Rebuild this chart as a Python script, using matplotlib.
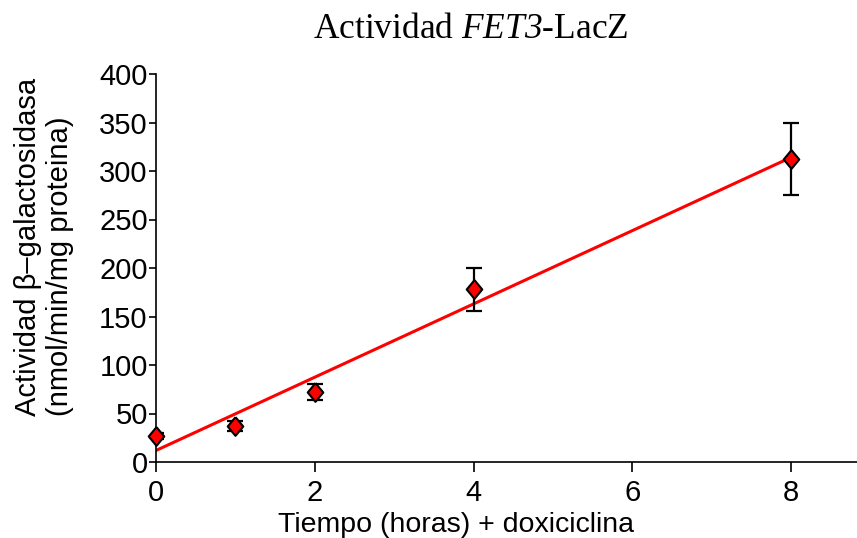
import numpy as np
import matplotlib.pyplot as plt

plt.rcParams['mathtext.fontset'] = 'custom'
plt.rcParams['mathtext.it'] = 'Liberation Serif:italic'
plt.rcParams['mathtext.rm'] = 'Liberation Serif:italic'

# data
hours = [0, 1, 2, 4, 8]
activity = [27, 37, 72, 178, 312]
errors = [3, 5, 8, 22, 37]

# linear fit through the points
slope, intercept = np.polyfit(hours, activity, 1)
fit_x = np.array([0, 8])
fit_y = slope * fit_x + intercept

W, H = 857, 538
fig = plt.figure(figsize=(W / 100, H / 100), dpi=100)
ax = fig.add_axes([156 / W, 1 - 462 / H, 1 - 156 / W, (462 - 74) / H])

ax.plot(fit_x, fit_y, color="red", lw=2.2, zorder=2)
ax.errorbar(hours, activity, yerr=errors, fmt="none", ecolor="black",
            elinewidth=1.6, capsize=5.5, capthick=1.6, zorder=3)
diamond = [(0, 1), (0.83, 0), (0, -1), (-0.83, 0), (0, 1)]
ax.plot(hours, activity, linestyle="none", marker=diamond, markersize=13.5,
        markerfacecolor="red", markeredgecolor="black", markeredgewidth=1.5,
        zorder=4, clip_on=False)

ax.set_xlim(0, 8.83)
ax.set_ylim(0, 400)
ax.set_xticks([0, 2, 4, 6, 8])
ax.set_yticks(range(0, 401, 50))

for side in ("top", "right"):
    ax.spines[side].set_visible(False)
for side in ("left", "bottom"):
    ax.spines[side].set_linewidth(1.2)
ax.tick_params(axis="y", direction="out", length=5, width=1.2,
               labelsize=21, pad=1)
ax.tick_params(axis="x", direction="out", length=7, width=1.2,
               labelsize=21, pad=5)
for lab in ax.get_xticklabels() + ax.get_yticklabels():
    lab.set_fontfamily("Liberation Sans")

fig.text(456 / W, 1 - 532 / H, "Tiempo (horas) + doxiciclina",
         ha="center", va="baseline", fontsize=20.5,
         fontfamily="Liberation Sans")
fig.text(44 / W, 1 - 416 / H,
         "Actividad β–galactosidasa\n(nmol/min/mg proteina)",
         rotation=90, ha="center", va="bottom", multialignment="left",
         fontsize=21, fontfamily="Liberation Sans", linespacing=1.15)

fig.text(471 / W, 1 - 38 / H, r"Actividad $FET3$-LacZ",
         ha="center", va="baseline", fontsize=25.5,
         fontfamily="Liberation Serif")

fig.savefig("out.png", dpi=100)
